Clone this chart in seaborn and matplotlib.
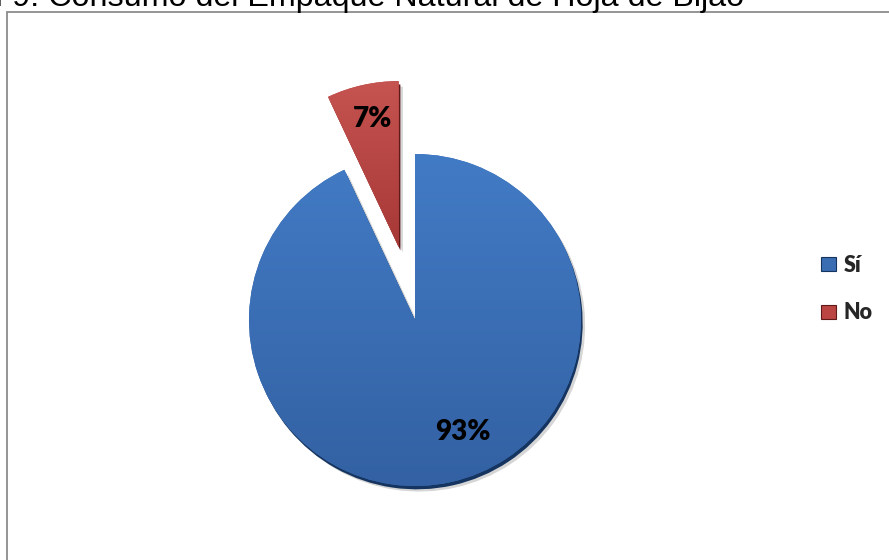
import numpy as np
import pandas as pd
import matplotlib
matplotlib.use("Agg")
import matplotlib.pyplot as plt
import seaborn as sns
from matplotlib import patheffects as pe
from matplotlib.patches import Rectangle, Patch

# Survey answers and their shares (%)
categories = ["Sí", "No"]
shares = [93, 7]
title_prefix = "Gráfico N"
title_rest = " 9: Consumo del Empaque Natural de Hoja de Bijao"

sns.set_theme(style="white")
plt.rcParams["font.family"] = ["Liberation Sans", "DejaVu Sans"]

W, H = 889, 560
fig = plt.figure(figsize=(W / 100, H / 100), dpi=100)
fig.patch.set_facecolor("white")

palette = sns.color_palette(["#3A6DB2", "#BA4542"])
light = ["#427BC5", "#C65451"]
deep = ["#3361A3", "#A63836"]
rim = ["#15345F", "#5E1918"]

ax = fig.add_axes([0, 0, 1, 1])
cx, cy, r = 415, H - 320, 166
df = pd.DataFrame({"answer": categories, "share": shares})
# explode offset is given in data units (pixels here)
wedges, _ = ax.pie(df["share"], colors=palette, startangle=90, counterclock=False,
                   center=(cx, cy), radius=r, explode=[0, 0.45 * r], frame=True,
                   wedgeprops=dict(linewidth=0))

# soft 3D look: dark rim below each slice plus a light-to-dark gradient fill
for w, c0, c1, rc in zip(wedges, light, deep, rim):
    w.set_path_effects([
        pe.SimplePatchShadow(offset=(3, -4), shadow_rgbFace="#000000", alpha=0.16),
        pe.SimplePatchShadow(offset=(1.2, -2.4), shadow_rgbFace=rc, alpha=1.0),
        pe.Normal(),
    ])
    x0, y0, x1, y1 = w.get_path().get_extents(w.get_transform() - ax.transData).extents
    grad = np.linspace(0, 1, 256)[:, None]
    cmap = matplotlib.colors.LinearSegmentedColormap.from_list("g", [c0, c1])
    im = ax.imshow(grad, cmap=cmap, extent=(x0, x1, y0, y1), origin="upper",
                   aspect="auto", zorder=w.get_zorder() + 0.1, interpolation="bilinear")
    im.set_clip_path(w)

ax.set_xlim(0, W)
ax.set_ylim(0, H)
ax.set_aspect("equal")
ax.axis("off")

lab_font = dict(family=["Lato", "DejaVu Sans"], fontweight="heavy", fontsize=20, color="black")
ax.text(463, H - 432, f"{shares[0]}%", ha="center", va="center", zorder=10, **lab_font)
ax.text(373, H - 119, f"{shares[1]}%", ha="center", va="center", zorder=10, **lab_font)

# legend
handles = [Patch(facecolor=palette[i], edgecolor=rim[i], linewidth=0.8) for i in range(2)]
fig.legend(handles, categories, loc="center left", bbox_to_anchor=(802 / W, 1 - 289 / H),
           frameon=False, handlelength=0.68, handleheight=0.68, handletextpad=0.35,
           labelspacing=1.25, prop=dict(family=["Lato", "DejaVu Sans"], weight="heavy", size=15.5))

# chart frame
fig.patches.append(Rectangle((6.5 / W, -0.05), 1.2, (H - 11.5) / H + 0.05,
                             transform=fig.transFigure, fill=False,
                             edgecolor="#8c8c8c", linewidth=1.3))

# title sits above the frame
tfont = dict(fontsize=23.2, color="black")
fig.canvas.draw()
probe = fig.text(0, 0, title_prefix, **tfont)
pw = probe.get_window_extent(fig.canvas.get_renderer()).width
probe.remove()
fig.text((3 - pw) / W, 1 - 6 / H, title_prefix + title_rest, va="baseline", ha="left", **tfont)

fig.savefig("out.png", dpi=100, facecolor="white")
